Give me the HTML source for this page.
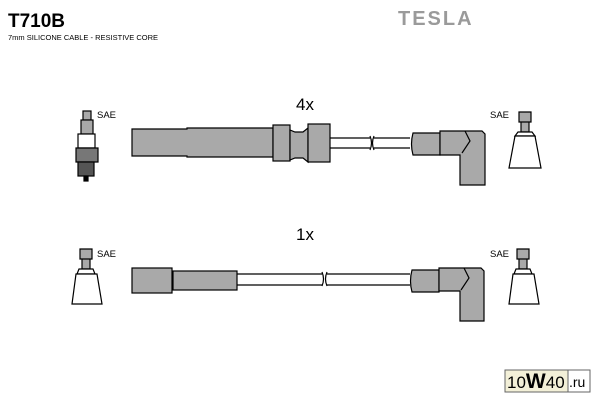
<!DOCTYPE html>
<html><head><style>body{margin:0;background:#fff}svg{display:block}text{font-family:"Liberation Sans",sans-serif}</style></head><body>
<svg width="600" height="400" viewBox="0 0 600 400">
<text x="8" y="27" font-size="19" font-weight="bold">T710B</text>
<text x="8" y="40" font-size="7.5">7mm SILICONE CABLE - RESISTIVE CORE</text>
<text x="398" y="25" font-size="20" font-weight="bold" font-family="Liberation Serif" fill="#9a9a9a" letter-spacing="2">TESLA</text>
<text x="296" y="110" font-size="17">4x</text>
<text x="296" y="240" font-size="17">1x</text>
<g font-size="9.5"><text x="97" y="118">SAE</text><text x="490" y="118">SAE</text><text x="97" y="257">SAE</text><text x="490" y="257">SAE</text></g>
<g stroke="#000" stroke-width="1.2" fill="#a9a9a9">
<rect x="83" y="111" width="8" height="9"/><rect x="81" y="120" width="12" height="14"/><rect x="78" y="134" width="17" height="14" fill="#fff"/><path d="M76 148h22v14h-22z" fill="#777"/><rect x="78" y="162" width="16" height="14" fill="#555"/><rect x="84" y="176" width="4" height="5" fill="#000"/>
<path d="M132 129h55v-1h86v29h-86v-1h-55z"/><rect x="273" y="125" width="17" height="36"/><path d="M290 130l5 2h8l5-4v34l-5-4h-8l-5 2z"/><rect x="308" y="124" width="22" height="38"/>
<path d="M330 138h40M330 148h40M374 138h36M374 148h36" fill="none"/><path d="M370 136q3 7 0 14M374 136q-3 7 0 14" fill="none"/>
<path d="M413 133h27v22h-27q-3-11 0-22z"/><path d="M440 131h42l3 3v51h-25v-30h-20z"/><path d="M465 131l5 10-8 12" fill="none"/>
<path d="M519 112h12v10h-12z M521 122h8v10h-8z"/><path d="M518 132h14l3 4h-20z" fill="#fff"/><path d="M515 136h20l6 32h-32z" fill="#fff"/>
<path d="M80 249h12v10h-12z M82 259h8v10h-8z"/><path d="M79 269h14l2 5h-18z" fill="#fff"/><path d="M76 274h21l5 30h-30z" fill="#fff"/>
<path d="M517 249h12v10h-12z M519 259h8v10h-8z"/><path d="M516 269h14l2 5h-18z" fill="#fff"/><path d="M513 274h21l5 30h-30z" fill="#fff"/>
<rect x="132" y="268" width="40" height="25"/><rect x="173" y="271" width="64" height="19"/>
<path d="M237 274h85M237 285h85M327 274h83M327 285h83" fill="none"/><path d="M322 272q3 7 0 14M327 272q-3 7 0 14" fill="none"/>
<path d="M412 270h27v22h-27q-3-11 0-22z"/><path d="M439 268h42l3 3v50h-24v-30h-21z"/><path d="M464 268l5 10-8 12" fill="none"/>
</g>
<rect x="505" y="370" width="63" height="22" fill="#f3f0d8" stroke="#666"/><rect x="568" y="370" width="22" height="22" fill="#fff" stroke="#666"/>
<text x="507" y="388" font-size="17">10<tspan font-weight="bold" font-size="21">W</tspan>40</text><text x="569" y="387" font-size="14">.ru</text>
</svg></body></html>
